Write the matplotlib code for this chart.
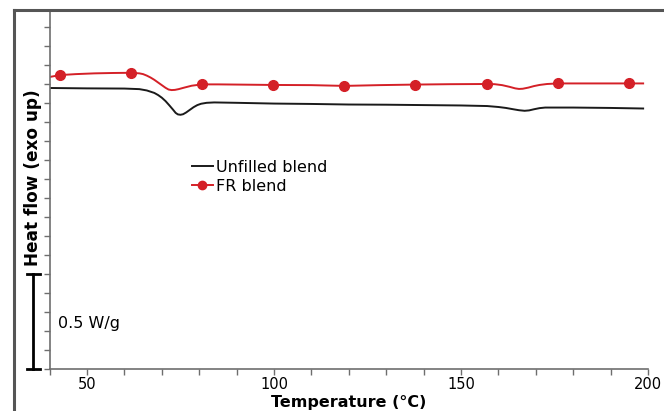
import numpy as np
import matplotlib.pyplot as plt
from matplotlib.lines import Line2D
from matplotlib.ticker import MultipleLocator, FuncFormatter
import matplotlib.transforms as mtransforms

# DSC heating traces, heat flow in W/g (offset traces, exo up)
temp_unfilled = [40, 50, 60, 64, 66, 68, 69, 70, 71, 72, 73, 73.7, 74.3, 75, 75.7, 76.5, 77.5,
                 78.5, 79.5, 80.5, 82, 84, 90, 100, 110, 120, 130, 140, 150, 157, 160, 162,
                 164, 165.5, 167, 168.2, 169.5, 171, 172.5, 180, 190, 198.7]
hf_unfilled = [1.479, 1.477, 1.476, 1.473, 1.466, 1.453, 1.442, 1.428, 1.410, 1.388, 1.365,
               1.348, 1.340, 1.338, 1.341, 1.350, 1.364, 1.378, 1.389, 1.396, 1.401, 1.403,
               1.401, 1.397, 1.395, 1.392, 1.391, 1.389, 1.387, 1.384, 1.379, 1.374, 1.367,
               1.362, 1.359, 1.361, 1.367, 1.373, 1.376, 1.376, 1.374, 1.371]

temp_fr = [40, 42.8, 47, 52, 57, 61.8, 64, 65, 66, 67, 68, 69, 70, 71, 71.8, 72.6, 73.5, 74.5,
           76, 78, 80.7, 85, 90, 99.6, 110, 118.8, 128, 137.8, 147, 156.9, 159, 161, 163,
           164.5, 165.5, 166.5, 168, 169.5, 171, 173, 175.9, 185, 194.8, 198.7]
hf_fr = [1.537, 1.547, 1.552, 1.556, 1.558, 1.559, 1.556, 1.552, 1.544, 1.534, 1.522, 1.508,
         1.494, 1.480, 1.471, 1.468, 1.469, 1.473, 1.481, 1.491, 1.498, 1.498, 1.497, 1.495,
         1.494, 1.490, 1.494, 1.497, 1.499, 1.500, 1.499, 1.494, 1.485, 1.477, 1.474, 1.475,
         1.481, 1.489, 1.495, 1.500, 1.503, 1.503, 1.503, 1.503]

# marker positions on the FR trace
temp_fr_marks = [42.8, 61.8, 80.7, 99.6, 118.8, 137.8, 156.9, 175.9, 194.8]
hf_fr_marks = [1.547, 1.559, 1.498, 1.495, 1.490, 1.497, 1.500, 1.503, 1.503]

red = '#d42027'
spine_grey = '#6e6e6e'

plt.rcParams['font.family'] = 'DejaVu Sans'

fig = plt.figure(figsize=(6.64, 4.11), dpi=100)
ax = fig.add_axes([49.6 / 664, 1 - 369 / 411, (648 - 49.6) / 664, (369 - 11) / 411])

ax.plot(temp_unfilled, hf_unfilled, color='#1a1a1a', lw=1.4, solid_joinstyle='round')
ax.plot(temp_fr, hf_fr, color=red, lw=1.4, solid_joinstyle='round')
ax.plot(temp_fr_marks, hf_fr_marks, 'o', color=red, ms=7, mec=red)

ax.set_xlim(40, 200)
ax.set_ylim(0, (369 - 11) / 190)

for side in ('top', 'right'):
    ax.spines[side].set_visible(False)
for side in ('left', 'bottom'):
    ax.spines[side].set_color(spine_grey)
    ax.spines[side].set_linewidth(1.2)

ax.xaxis.set_major_locator(MultipleLocator(10))
ax.xaxis.set_major_formatter(FuncFormatter(lambda v, p: f'{v:.0f}' if v % 50 == 0 else ''))
ax.yaxis.set_major_locator(MultipleLocator(0.1))
ax.set_yticklabels([])
ax.tick_params(axis='both', colors=spine_grey, length=4, width=1, labelcolor='black',
               labelsize=10.5)
ax.tick_params(axis='x', pad=2)

ax.set_xlabel('Temperature (°C)', fontsize=11.5, fontweight='bold', labelpad=2)
fig.text(33 / 664, 1 - 178 / 411, 'Heat flow (exo up)', rotation=90, fontsize=12.2,
         fontweight='bold', ha='center', va='center')

# 0.5 W/g scale bar
trans = mtransforms.blended_transform_factory(ax.transAxes, ax.transData)
bx = (33 - 49.6) / (648 - 49.6)
cap = 6.5 / (648 - 49.6)
ax.plot([bx, bx], [0, 0.5], color='black', lw=2, transform=trans, clip_on=False)
ax.plot([bx - cap, bx + cap], [0.5, 0.5], color='black', lw=2, transform=trans, clip_on=False)
ax.plot([bx - cap, bx + cap], [0, 0], color='black', lw=2, transform=trans, clip_on=False)
ax.text(58 / 664, 1 - 323 / 411, '0.5 W/g', transform=fig.transFigure, fontsize=11.5,
        ha='left', va='center')

handles = [Line2D([], [], color='#1a1a1a', lw=1.4),
           Line2D([], [], color=red, lw=1.4, marker='o', ms=6)]
ax.legend(handles, ['Unfilled blend', 'FR blend'], loc='upper left',
          bbox_to_anchor=((192 - 49.6) / (648 - 49.6), 1 - (160 - 11) / (369 - 11)),
          frameon=False, fontsize=11.5, handlelength=1.3, handletextpad=0.2,
          labelspacing=0.25, borderpad=0, borderaxespad=0)

# outer frame along top and left edge
fig.add_artist(Line2D([13.5 / 664, 1], [1 - 10.5 / 411] * 2, color='#555555', lw=2.2,
                      transform=fig.transFigure))
fig.add_artist(Line2D([13.5 / 664] * 2, [0, 1 - 10.5 / 411], color='#555555', lw=2.2,
                      transform=fig.transFigure))

fig.savefig('out.png', dpi=100)
